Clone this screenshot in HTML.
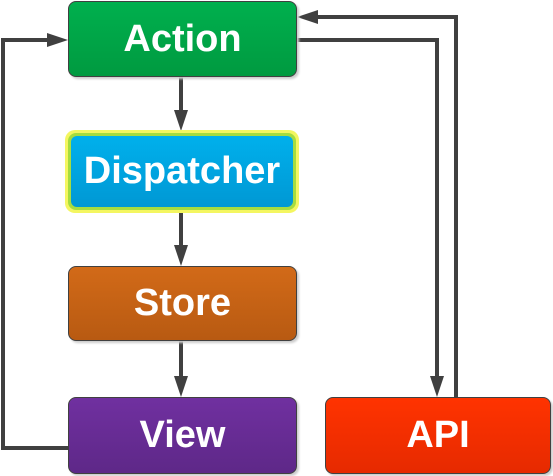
<!DOCTYPE html>
<html><head><style>
body{margin:0;width:553px;height:476px;background:#fff;overflow:hidden;position:relative;font-family:"Liberation Sans",sans-serif}
.b{position:absolute;box-sizing:border-box;border:1px solid #404040;border-radius:8px;color:#fff;font-weight:bold;font-size:38px;display:flex;align-items:center;justify-content:center;box-shadow:2px 2px 2px #ccc}
</style></head><body>
<svg width="553" height="476" style="position:absolute;left:0;top:0">
<g stroke="#404040" stroke-width="4" fill="none">
<path d="M68,448H3V40H50"/>
<path d="M296,40H437V380"/>
<path d="M456,397V17H315"/>
<path d="M181,76V112"/>
<path d="M181,213V248"/>
<path d="M181,340V380"/>
</g>
<g fill="#404040">
<path d="M47,33L68,40L47,47z"/>
<path d="M297,17L318,10L318,24z"/>
<path d="M430,376L437,397L444,376z"/>
<path d="M174,110L181,131L188,110z"/>
<path d="M174,245L181,266L188,245z"/>
<path d="M174,376L181,397L188,376z"/>
</g>
</svg>
<div class="b" style="left:68px;top:1px;width:229px;height:76px;background:linear-gradient(#00b04e,#009a40)">Action</div>
<div style="position:absolute;left:65px;top:130px;width:234px;height:83px;border-radius:10px;background:#f4f660;box-sizing:border-box;padding:3px"><div style="width:100%;height:100%;border-radius:8px;background:#a6dc40;padding:3px;box-sizing:border-box"><div style="width:100%;height:100%;border-radius:6px;background:linear-gradient(#00b0ec,#0098d4);color:#fff;font-weight:bold;font-size:38px;display:flex;align-items:center;justify-content:center">Dispatcher</div></div></div>
<div class="b" style="left:68px;top:266px;width:229px;height:75px;background:linear-gradient(#d26a18,#b85a12)">Store</div>
<div class="b" style="left:68px;top:397px;width:229px;height:77px;background:linear-gradient(#7030a0,#5e2888)">View</div>
<div class="b" style="left:325px;top:397px;width:226px;height:77px;background:linear-gradient(#ff3300,#e62a00)">API</div>
</body></html>
